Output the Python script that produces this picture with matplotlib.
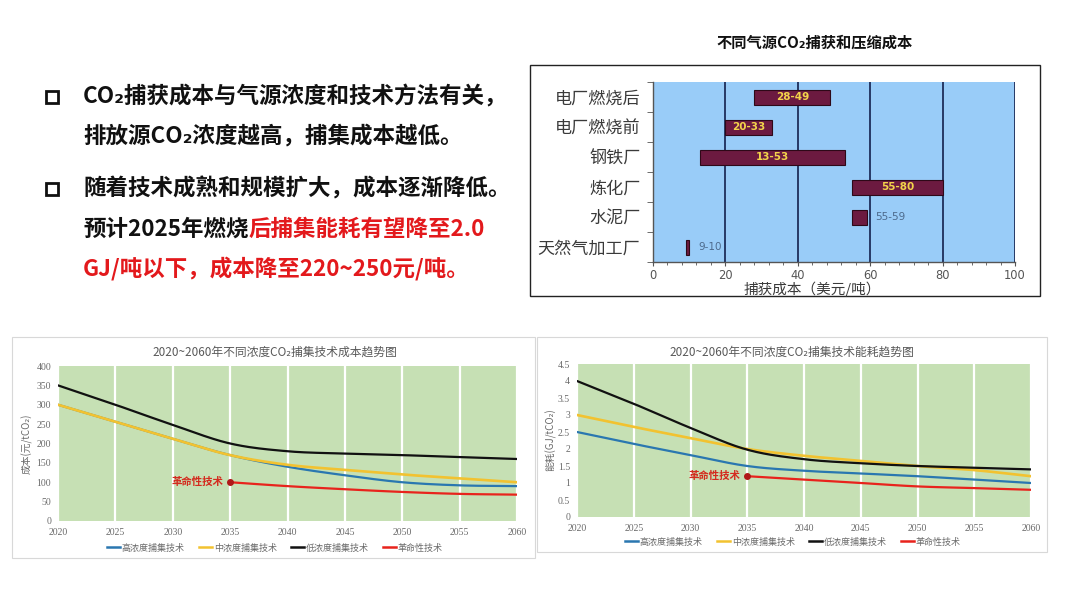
import numpy as np
import matplotlib
matplotlib.use("Agg")
import matplotlib.pyplot as plt
from matplotlib.lines import Line2D
from matplotlib.patches import Rectangle
from matplotlib.text import Annotation
from matplotlib.ticker import MultipleLocator, FixedLocator

plt.rcParams['font.family'] = ['Noto Sans CJK SC', 'DejaVu Sans']

# ---------------- data ----------------
src_categories = ["电厂燃烧后", "电厂燃烧前", "钢铁厂", "炼化厂", "水泥厂", "天然气加工厂"]
src_low = [28, 20, 13, 55, 55, 9]
src_high = [49, 33, 53, 80, 59, 10]
src_labels = ["28-49", "20-33", "13-53", "55-80", "55-59", "9-10"]

years = [2020, 2025, 2030, 2035, 2040, 2045, 2050, 2055, 2060]
rev_years = [2035, 2040, 2045, 2050, 2055, 2060]
series_names = ["高浓度捕集技术", "中浓度捕集技术", "低浓度捕集技术", "革命性技术"]

cost_high = [300, 256, 212, 170, 140, 118, 100, 92, 90]
cost_mid = [300, 256, 212, 170, 145, 132, 120, 110, 100]
cost_low = [350, 300, 248, 200, 180, 174, 170, 165, 160]
cost_rev = [100, 90, 82, 75, 70, 68]

en_high = [2.5, 2.15, 1.82, 1.5, 1.36, 1.28, 1.2, 1.1, 1.0]
en_mid = [3.0, 2.65, 2.32, 2.0, 1.8, 1.65, 1.5, 1.38, 1.2]
en_low = [4.0, 3.33, 2.62, 1.98, 1.7, 1.58, 1.5, 1.45, 1.4]
en_rev = [1.2, 1.1, 1.0, 0.9, 0.85, 0.8]

cost_yticks = [0, 50, 100, 150, 200, 250, 300, 350, 400]
en_yticks = [0, 0.5, 1, 1.5, 2, 2.5, 3, 3.5, 4, 4.5]
en_ytick_labels = ["0", "0.5", "1", "1.5", "2", "2.5", "3", "3.5", "4", "4.5"]

# ---------------- helpers ----------------
W, H = 1080, 608
fig = plt.figure(figsize=(W / 100, H / 100), dpi=100)
fig.patch.set_facecolor("white")


def fx(x):
    return x / W


def fy(y):
    return 1 - y / H


def add_ax(l, t, r, b):
    return fig.add_axes([fx(l), fy(b), (r - l) / W, (b - t) / H])


def frame(l, t, r, b, color, lw):
    fig.patches.append(Rectangle((fx(l), fy(b)), (r - l) / W, (b - t) / H,
                                 transform=fig.transFigure, fill=False,
                                 edgecolor=color, linewidth=lw))


def smooth(x, y, n=24):
    P = np.column_stack([np.asarray(x, float), np.asarray(y, float)])
    P = np.vstack([2 * P[0] - P[1], P, 2 * P[-1] - P[-2]])
    out = []
    t = np.linspace(0, 1, n, endpoint=False)[:, None]
    for i in range(1, len(P) - 2):
        p0, p1, p2, p3 = P[i - 1], P[i], P[i + 1], P[i + 2]
        pts = 0.5 * ((2 * p1) + (-p0 + p2) * t + (2 * p0 - 5 * p1 + 4 * p2 - p3) * t ** 2
                     + (-p0 + 3 * p1 - 3 * p2 + p3) * t ** 3)
        out.append(pts)
    out.append(P[-2][None])
    S = np.vstack(out)
    return S[:, 0], S[:, 1]


# ---------------- left text ----------------
FS = 16.2
BLACK = "#111111"
RED = "#E3191C"
tx = 83
for yy in (97, 189):
    frame(46, yy - 6, 58, yy + 6, BLACK, 2.0)
fig.text(fx(tx), fy(97), "CO₂捕获成本与气源浓度和技术方法有关，", fontsize=FS,
         fontweight="bold", color=BLACK, va="center")
fig.text(fx(tx), fy(136), "排放源CO₂浓度越高，捕集成本越低。", fontsize=FS,
         fontweight="bold", color=BLACK, va="center")
fig.text(fx(tx), fy(189), "随着技术成熟和规模扩大，成本逐渐降低。", fontsize=FS,
         fontweight="bold", color=BLACK, va="center")
t4 = fig.text(fx(tx), fy(229), "预计2025年燃烧", fontsize=FS, fontweight="bold",
              color=BLACK, va="center")
fig.add_artist(Annotation("后捕集能耗有望降至2.0", xy=(1, 0.5), xycoords=t4,
                          va="center", ha="left", fontsize=FS, fontweight="bold",
                          color=RED))
fig.text(fx(tx), fy(269), "GJ/吨以下，成本降至220~250元/吨。", fontsize=FS,
         fontweight="bold", color=RED, va="center")

# ---------------- top-right bar chart ----------------
fig.text(fx(815), fy(43), "不同气源CO₂捕获和压缩成本", fontsize=11, fontweight="bold",
         color=BLACK, ha="center", va="center")
frame(530, 65, 1040, 296, "#222222", 1.0)

axb = add_ax(653, 82, 1015, 262)
axb.set_facecolor("#99CCF8")
ypos = np.arange(len(src_categories))
widths = [h - l for l, h in zip(src_low, src_high)]
axb.barh(ypos, widths, left=src_low, height=0.5, color="#6C1A40",
         edgecolor="#2E0818", linewidth=0.8, zorder=3)
for i, (lo, hi, lab) in enumerate(zip(src_low, src_high, src_labels)):
    if hi - lo >= 10:
        axb.text((lo + hi) / 2, i, lab, ha="center", va="center", fontsize=7.5,
                 fontweight="bold", color="#F2D44A", zorder=4,
                 family=["DejaVu Sans"])
    else:
        axb.text(hi + 2.5, i, lab, ha="left", va="center", fontsize=7.5,
                 color="#4D6A8C", zorder=4, family=["DejaVu Sans"])
axb.set_xlim(0, 100)
axb.set_ylim(len(src_categories) - 0.5, -0.5)
axb.xaxis.set_major_locator(MultipleLocator(20))
axb.xaxis.set_minor_locator(MultipleLocator(4))
axb.set_yticks(ypos)
axb.set_yticklabels(src_categories, fontsize=12.3, color="#3A3A3A")
axb.yaxis.set_minor_locator(FixedLocator(np.arange(-0.5, len(src_categories), 1)))
axb.tick_params(axis="y", which="major", length=0, pad=9)
axb.tick_params(axis="y", which="minor", length=4, color="#555555")
axb.tick_params(axis="x", which="major", length=3, color="#555555", labelsize=8.3,
                labelcolor="#555555", pad=2)
axb.tick_params(axis="x", which="minor", length=2, color="#555555")
for lbl in axb.get_xticklabels():
    lbl.set_family(["DejaVu Sans"])
axb.grid(axis="x", which="major", color="#1E2D5A", linewidth=1.3, zorder=1)
axb.set_axisbelow(True)
for s in ("top", "right"):
    axb.spines[s].set_visible(False)
for s in ("left", "bottom"):
    axb.spines[s].set_color("#555555")
    axb.spines[s].set_linewidth(1.0)
fig.text(fx(812), fy(289), "捕获成本（美元/吨）", fontsize=10.5, color="#3A3A3A",
         ha="center", va="center")

# ---------------- bottom line charts ----------------
C_HIGH = "#2A77B0"
C_MID = "#F2C230"
C_LOW = "#111111"
C_REV = "#E8231C"
GREEN = "#C6E0B4"
GRAY = "#6A6A6A"
SERIF = ["Liberation Serif", "DejaVu Serif"]


def line_chart(ax, hi, mid, lo, rev, yticks, ylabels, ymax):
    ax.set_facecolor(GREEN)
    for data, col, lw in ((hi, C_HIGH, 1.6), (mid, C_MID, 1.9), (lo, C_LOW, 1.6)):
        xs, ys = smooth(years, data)
        ax.plot(xs, ys, color=col, linewidth=lw, zorder=3, solid_capstyle="round")
    xs, ys = smooth(rev_years, rev)
    ax.plot(xs, ys, color=C_REV, linewidth=1.6, zorder=3)
    ax.plot([rev_years[0]], [rev[0]], "o", color="#B01818", markersize=4, zorder=4)
    ax.text(rev_years[0] - 0.6, rev[0], "革命性技术", color="#D42A1E", fontsize=7.5,
            fontweight="bold", ha="right", va="center", zorder=4)
    ax.set_xlim(years[0], years[-1])
    ax.set_ylim(0, ymax)
    ax.set_xticks(years)
    ax.set_xticklabels([str(y) for y in years])
    ax.set_yticks(yticks)
    ax.set_yticklabels(ylabels)
    ax.grid(axis="x", color="white", linewidth=1.6, zorder=1)
    ax.set_axisbelow(True)
    for s in ax.spines.values():
        s.set_visible(False)
    ax.tick_params(length=0, labelsize=7, labelcolor=GRAY, pad=5)
    for lbl in ax.get_xticklabels() + ax.get_yticklabels():
        lbl.set_family(SERIF)


# cost chart
frame(12, 337, 535, 558, "#D8D8D8", 0.8)
axc = add_ax(58, 366, 517, 521)
line_chart(axc, cost_high, cost_mid, cost_low, cost_rev, cost_yticks,
           [str(v) for v in cost_yticks], 400)
fig.text(fx(275), fy(352), "2020~2060年不同浓度CO₂捕集技术成本趋势图", fontsize=8.5,
         color="#595959", ha="center", va="center")
fig.text(fx(27), fy(444), "成本(元/tCO₂)", fontsize=7, color=GRAY, rotation=90,
         ha="center", va="center")

# energy chart
frame(537, 337, 1047, 552, "#D8D8D8", 0.8)
axe = add_ax(577, 364, 1031, 517)
line_chart(axe, en_high, en_mid, en_low, en_rev, en_yticks, en_ytick_labels, 4.5)
fig.text(fx(792), fy(352), "2020~2060年不同浓度CO₂捕集技术能耗趋势图", fontsize=8.5,
         color="#595959", ha="center", va="center")
fig.text(fx(551), fy(440), "能耗(GJ/tCO₂)", fontsize=7, color=GRAY, rotation=90,
         ha="center", va="center")

handles = [Line2D([0], [0], color=c, lw=1.8) for c in (C_HIGH, C_MID, C_LOW, C_REV)]
for cx, cy in ((275, 548), (793, 542)):
    fig.legend(handles, series_names, loc="center", bbox_to_anchor=(fx(cx), fy(cy)),
               ncol=4, frameon=False, fontsize=6.5, handlelength=1.4,
               handletextpad=0.2, columnspacing=1.6, labelcolor=GRAY)

fig.savefig("out.png", dpi=100, facecolor="white")
